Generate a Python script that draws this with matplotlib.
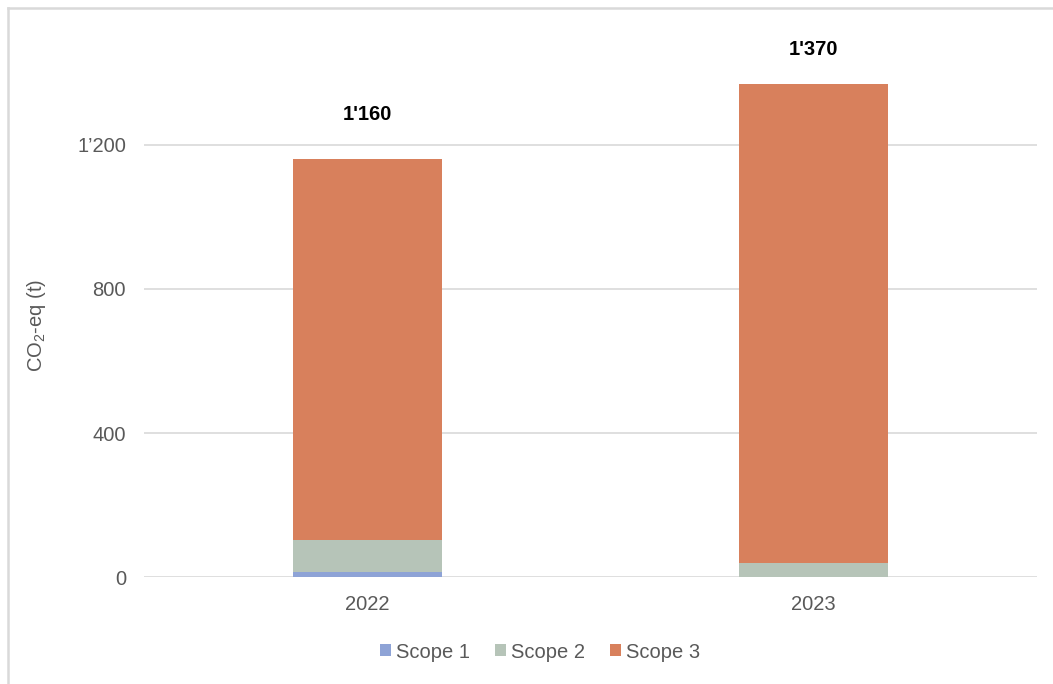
import matplotlib.pyplot as plt
from matplotlib.lines import Line2D
import numpy as np

plt.rcParams['font.family'] = ['Liberation Sans', 'DejaVu Sans']
plt.rcParams['mathtext.fontset'] = 'custom'
plt.rcParams['mathtext.rm'] = 'Liberation Sans'

years = ['2022', '2023']
scope1 = [13, 0]
scope2 = [90, 38]
scope3 = [1057, 1332]
totals = [1160, 1370]
total_labels = ["1'160", "1'370"]

colors = ['#8ea3d6', '#b6c4b8', '#d8805c']
grey = '#595959'

fig = plt.figure(figsize=(10.53, 6.84), dpi=100)
ax = fig.add_axes([0.1368, 0.1564, 0.848, 0.7369])

x = np.arange(len(years))
w = 0.334
b1 = np.array(scope1)
b2 = b1 + np.array(scope2)
ax.bar(x, scope1, w, color=colors[0], label='Scope 1', zorder=3)
ax.bar(x, scope2, w, bottom=b1, color=colors[1], label='Scope 2', zorder=3)
ax.bar(x, scope3, w, bottom=b2, color=colors[2], label='Scope 3', zorder=3)

# totals written above each stack
offsets = [32, 25]
for xi, t, lab, off in zip(x, totals, total_labels, offsets):
    ax.annotate(lab, (xi, t), xytext=(0, off), textcoords='offset points',
                ha='center', va='center', fontsize=14.5, fontweight='bold',
                color='black')

ax.set_xlim(-0.5, 1.5)
ax.set_ylim(0, 1400)
ax.set_yticks([0, 400, 800, 1200])
ax.set_yticklabels(['0', '400', '800', '1’200'])
ax.set_xticks(x)
ax.set_xticklabels(years)
ax.tick_params(length=0, labelsize=14.5, labelcolor=grey)
ax.tick_params(axis='y', pad=13)
ax.tick_params(axis='x', pad=13)
ax.grid(axis='y', color='#d9d9d9', linewidth=1.2, zorder=0)
for s in ax.spines.values():
    s.set_visible(False)
ax.set_ylabel(r'$\mathregular{CO_2}$-eq (t)', fontsize=14.5, color=grey, labelpad=21)

fig.legend(loc='center', bbox_to_anchor=(540 / 1053, 1 - 652 / 684), ncol=3,
           frameon=False, fontsize=14.5, labelcolor=grey,
           handlelength=0.55, handleheight=0.55, handletextpad=0.25,
           columnspacing=1.25)

# outer frame (top and left edges)
fx = 8 / 1053
fy = 1 - 8 / 684
fig.add_artist(Line2D([fx, 1], [fy, fy], transform=fig.transFigure,
                      color='#d9d9d9', linewidth=1.8))
fig.add_artist(Line2D([fx, fx], [0, fy], transform=fig.transFigure,
                      color='#d9d9d9', linewidth=1.8))

fig.savefig('out.png', dpi=100, facecolor='white')
